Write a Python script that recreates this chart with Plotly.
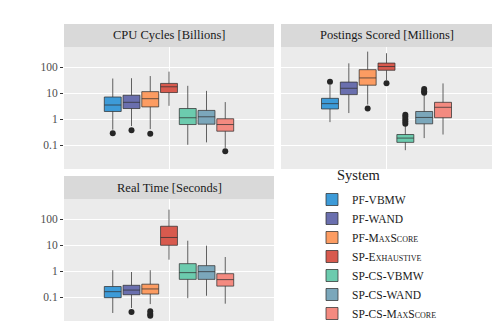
import plotly.graph_objects as go

W, H = 504, 333

systems = ["PF-VBMW", "PF-WAND", "PF-MaxScore", "SP-Exhaustive",
           "SP-CS-VBMW", "SP-CS-WAND", "SP-CS-MaxScore"]
colors = ["#3d9bd8", "#6a6fae", "#fc9c62", "#d85a4e",
          "#6ccbae", "#7ba7bb", "#f48a80"]

# CPU Cycles [Billions]
cpu_lower = [0.40, 0.55, 0.42, 3.3, 0.105, 0.13, 0.08]
cpu_q1 = [2.0, 2.6, 3.0, 10.6, 0.63, 0.65, 0.35]
cpu_med = [3.55, 4.5, 6.2, 17.8, 1.15, 1.25, 0.63]
cpu_q3 = [7.2, 8.4, 11.6, 24, 2.6, 2.2, 1.05]
cpu_upper = [37, 38, 46, 68, 19.4, 12.4, 4.6]
cpu_out = [[0.29], [0.38], [0.28], [], [], [], [0.059]]

# Postings Scored [Millions]
post_lower = [0.78, 1.74, 3.7, 32, 0.065, 0.19, 0.26]
post_q1 = [2.5, 8.9, 20.5, 77, 0.13, 0.67, 1.15]
post_med = [4.0, 15.6, 39, 107, 0.19, 1.18, 2.9]
post_q3 = [6.4, 27, 81, 145, 0.26, 2.0, 4.5]
post_upper = [21, 142, 400, 347, 0.55, 9.8, 24]
post_out = [[28], [], [2.6], [24.5], [0.68, 0.82, 1.0, 1.25, 1.5], [10.5, 12, 14.5], []]

# Real Time [Seconds]
time_lower = [0.025, 0.039, 0.055, 2.8, 0.093, 0.115, 0.057]
time_q1 = [0.097, 0.126, 0.134, 10, 0.49, 0.49, 0.27]
time_med = [0.165, 0.19, 0.21, 20, 0.89, 0.97, 0.48]
time_q3 = [0.26, 0.29, 0.32, 54, 1.97, 1.65, 0.81]
time_upper = [1.1, 0.94, 1.1, 235, 15, 9.7, 3.55]
time_out = [[], [0.027], [0.0195, 0.023, 0.029], [], [], [], []]

panels = [
    ("CPU Cycles [Billions]", cpu_lower, cpu_q1, cpu_med, cpu_q3, cpu_upper, cpu_out),
    ("Postings Scored [Millions]", post_lower, post_q1, post_med, post_q3, post_upper, post_out),
    ("Real Time [Seconds]", time_lower, time_q1, time_med, time_q3, time_upper, time_out),
]

FONT = "Liberation Serif"

# panel boxes in pixels (left, right, top, bottom), strip sits above
px = [(56, 266, 39, 161), (273, 484, 39, 161), (56, 266, 191, 313)]
strip_h = 23

fig = go.Figure()

dodge = 0.75 / len(systems)
for p, (title, lo, q1, med, q3, up, outs) in enumerate(panels):
    sfx = "" if p == 0 else str(p + 1)
    for i, name in enumerate(systems):
        xpos = -0.375 + dodge * (i + 0.5)
        fig.add_trace(go.Box(
            x=[xpos], lowerfence=[lo[i]], q1=[q1[i]], median=[med[i]],
            q3=[q3[i]], upperfence=[up[i]],
            width=dodge * 0.9, whiskerwidth=0, fillcolor=colors[i],
            line=dict(color="rgba(50,50,50,0.75)", width=1),
            boxpoints=False, name=name, legendgroup=name,
            showlegend=(p == 0), hoverinfo="skip",
            xaxis="x" + sfx, yaxis="y" + sfx))
        if outs[i]:
            fig.add_trace(go.Scatter(
                x=[xpos] * len(outs[i]), y=outs[i], mode="markers",
                marker=dict(color="#262626", size=6),
                showlegend=False, hoverinfo="skip",
                xaxis="x" + sfx, yaxis="y" + sfx))

    l, r, t, b = px[p]
    fig.add_shape(type="rect", xref="paper", yref="paper",
                  x0=l / W, x1=r / W, y0=1 - t / H, y1=1 - (t - strip_h) / H,
                  fillcolor="#d9d9d9", line_width=0, layer="below")
    fig.add_annotation(text=title, xref="paper", yref="paper",
                       x=(l + r) / 2 / W, y=1 - (t - strip_h / 2) / H,
                       showarrow=False, xanchor="center", yanchor="middle",
                       font=dict(family=FONT, size=12.5, color="#1a1a1a"))

    xa = dict(domain=[l / W, r / W], range=[-0.6, 0.6], tickvals=[0],
              showticklabels=False, ticks="", showgrid=True,
              gridcolor="white", gridwidth=1.1, zeroline=False,
              anchor="y" + sfx, showline=False)
    ya = dict(domain=[1 - b / H, 1 - t / H], type="log", range=[-1.91, 2.78],
              tickvals=[0.1, 1, 10, 100], ticktext=["0.1", "1", "10", "100"],
              showgrid=True, gridcolor="white", gridwidth=1.1, zeroline=False,
              anchor="x" + sfx, showline=False,
              tickfont=dict(family=FONT, size=11.5, color="#4d4d4d"))
    if p == 1:
        ya.update(showticklabels=False, ticks="")
    else:
        ya.update(ticks="outside", ticklen=3, tickcolor="#333333", tickwidth=1)
    fig.layout["xaxis" + sfx] = xa
    fig.layout["yaxis" + sfx] = ya

fig.add_annotation(text="System", xref="paper", yref="paper",
                   x=327 / W, y=1 - 177 / H, showarrow=False,
                   xanchor="left", yanchor="bottom",
                   font=dict(family=FONT, size=14.5, color="#1a1a1a"))

fig.update_layout(
    width=W, height=H,
    margin=dict(l=0, r=0, t=0, b=0),
    font=dict(family=FONT),
    paper_bgcolor="white", plot_bgcolor="#ebebeb",
    boxmode="overlay",
    legend=dict(x=304 / W, y=1 - 177 / H, xanchor="left", yanchor="top",
                bgcolor="rgba(0,0,0,0)", tracegroupgap=0,
                font=dict(family=FONT, size=11.5, color="#1a1a1a",
                          variant="small-caps")),
)

fig.write_html("out.html")
